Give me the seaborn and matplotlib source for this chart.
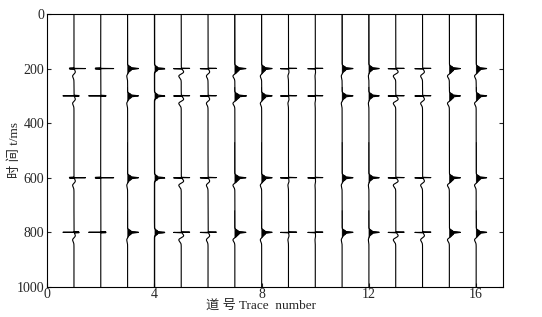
import numpy as np
import pandas as pd
import matplotlib
matplotlib.use('Agg')
import matplotlib.pyplot as plt
import seaborn as sns

# reflector times (ms) and trace numbers
event_times = [200, 300, 600, 800]
trace_numbers = list(range(1, 17))

# wavelet kind per trace
wavelet_kind = ['spike', 'spike', 'blob', 'blob', 'doublet', 'doublet', 'blob', 'blob',
                'doublet', 'doublet', 'blob', 'blob', 'doublet', 'doublet', 'blob', 'blob']

# amplitude (in trace-spacing units) of each event on each trace
event_amps = [
    [0.42, -0.42, 0.42, -0.42],
    [0.48, -0.45, 0.48, -0.45],
    [0.40, 0.40, 0.40, 0.40],
    [0.38, 0.38, 0.38, 0.38],
    [0.30, 0.30, 0.30, 0.30],
    [0.30, 0.30, 0.30, 0.30],
    [0.40, 0.42, 0.40, 0.40],
    [0.38, 0.38, 0.38, 0.38],
    [0.30, 0.30, 0.30, 0.30],
    [0.28, 0.28, 0.28, 0.28],
    [0.40, 0.40, 0.40, 0.40],
    [0.38, 0.38, 0.38, 0.38],
    [0.30, 0.30, 0.30, 0.30],
    [0.30, 0.30, 0.30, 0.30],
    [0.40, 0.40, 0.40, 0.40],
    [0.38, 0.38, 0.38, 0.38],
]

# small squiggle following each event
tail_amps = [0.05, 0.0, 0.03, 0.0, 0.09, 0.06, 0.07, 0.05,
             0.02, 0.01, 0.03, 0.02, 0.09, 0.07, 0.07, 0.06]

t = np.arange(0, 1000.25, 0.25)


def ricker(tau, f):
    a = (np.pi * f * tau / 1000.0) ** 2
    return (1 - 2 * a) * np.exp(-a)


def gauss(tau, s):
    return np.exp(-0.5 * (tau / s) ** 2)


def gauss_deriv(tau, s):
    return -(tau / s) * np.exp(0.5 - 0.5 * (tau / s) ** 2)


def make_trace(kind, amps, tail):
    sig = np.zeros_like(t)
    for t0, a in zip(event_times, amps):
        tau = t - t0
        if kind == 'spike':
            sig += a * ricker(tau, 350)
        elif kind == 'doublet':
            sig += a * gauss_deriv(tau, 0.5)
        else:
            sig += a * (0.6 * gauss(tau, 5.5) + 0.4 * ricker(tau, 110))
        sig += tail * gauss_deriv(tau - 20, 8.0)
    return sig


rows = []
signals = {}
for n, kind, amps, tail in zip(trace_numbers, wavelet_kind, event_amps, tail_amps):
    s = make_trace(kind, amps, tail)
    signals[n] = s
    rows.append(pd.DataFrame({'trace': n, 't': t, 'x': n + s}))
df = pd.concat(rows, ignore_index=True)

sns.set_style('ticks')
plt.rcParams['font.family'] = ['Liberation Serif', 'Noto Sans CJK SC']

fig, ax = plt.subplots(figsize=(5.42, 3.17), dpi=100)
fig.subplots_adjust(left=0.087, right=0.928, bottom=0.095, top=0.956)

sns.lineplot(data=df, x='x', y='t', units='trace', estimator=None, sort=False,
             color='black', lw=0.8, ax=ax, legend=False)
for n, kind in zip(trace_numbers, wavelet_kind):
    if kind != 'blob':
        continue
    s = signals[n]
    ax.fill_betweenx(t, n, n + s, where=s > 0.0, color='black', lw=0.3)

ax.set_xlim(0, 17)
ax.set_ylim(1000, 0)
ax.set_xticks([0, 4, 8, 12, 16])
ax.set_yticks([0, 200, 400, 600, 800, 1000])
ax.tick_params(direction='in', length=3, width=0.8, labelsize=10, right=True, pad=2)
ax.tick_params(axis='x', pad=1)
for sp in ax.spines.values():
    sp.set_linewidth(0.8)
    sp.set_color('black')

ax.set_xlabel('道 号 Trace  number', fontsize=9.5)
ax.xaxis.set_label_coords(0.47, -0.048)
ax.set_ylabel('时 间 t/ms', fontsize=9.5)
ax.yaxis.set_label_coords(-0.058, 0.5)

fig.savefig('out.png', dpi=100)
